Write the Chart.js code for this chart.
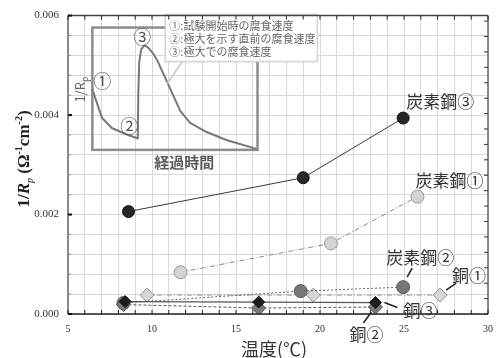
<!DOCTYPE html>
<html><head><meta charset="utf-8">
<script src="https://cdn.jsdelivr.net/npm/chart.js@4.4.0/dist/chart.umd.min.js"></script>
<style>html,body{margin:0;padding:0;background:#fff}#wrap{width:502px;height:358px;position:relative}</style>
</head><body><div id="wrap"><canvas id="c"></canvas></div>
<script>
// ---- data ----
const seriesNames = ['炭素鋼③', '炭素鋼①', '炭素鋼②', '銅①', '銅②', '銅③'];
const tanso3X = [8.6, 19.0, 24.95];
const tanso3Y = [0.00206, 0.00274, 0.00394];
const tanso1X = [11.7, 20.65, 25.8];
const tanso1Y = [0.00084, 0.00142, 0.00236];
const tanso2X = [8.3, 18.85, 24.95];
const tanso2Y = [0.00022, 0.00046, 0.00054];
const dou1X = [9.7, 19.6, 27.15];
const dou1Y = [0.00038, 0.00038, 0.00038];
const dou2X = [8.3, 16.35, 23.3];
const dou2Y = [0.00019, 0.00012, 0.00014];
const dou3X = [8.4, 16.35, 23.3];
const dou3Y = [0.00025, 0.00024, 0.00023];
const xTickLabels = [5, 10, 15, 20, 25, 30];
const yTickLabels = [0, 0.002, 0.004, 0.006];
// inset schematic (normalized elapsed time / normalized 1/Rp)
const insetT = [0, .024, .059, .118, .201, .275, .278, .284, .296, .314, .337, .367, .396, .426, .456, .497, .533, .592, .692, .811, .994];
const insetV = [.496, .398, .260, .179, .130, .093, .439, .724, .821, .854, .837, .789, .724, .634, .545, .423, .317, .220, .146, .081, .008];
const insetNotes = ['①:試験開始時の腐食速度', '②:極大を示す直前の腐食速度', '③:極大での腐食速度'];
const insetXLabel = '経過時間';
const xTitle = '温度(℃)';

// ---- style / layout (not data) ----
const insetBox = {x0: 6.45, x1: 16.28, yTop: 0.00576, yBot: 0.0033};
const rightTickStep = 0.00031;
const JP = '"Noto Sans CJK JP", "Noto Sans", sans-serif';
const SERIF = '"Liberation Serif", "DejaVu Serif", serif';

function mk(i, xs, ys, st) {
  return Object.assign({
    label: seriesNames[i],
    data: xs.map((x, k) => ({x: x, y: ys[k]})),
    showLine: true, tension: 0, borderWidth: 1, pointBorderWidth: 1, pointHoverRadius: 0
  }, st);
}
const datasets = [
  mk(0, tanso3X, tanso3Y, {pointStyle: 'circle', pointRadius: 6, pointBackgroundColor: '#262626', pointBorderColor: '#111', borderColor: '#3a3a3a', order: 1}),
  mk(1, tanso1X, tanso1Y, {pointStyle: 'circle', pointRadius: 6.5, pointBackgroundColor: '#d3d3d3', pointBorderColor: '#999', borderColor: '#8a8a8a', borderDash: [5, 2, 1, 2], order: 6}),
  mk(2, tanso2X, tanso2Y, {pointStyle: 'circle', pointRadius: 6.5, pointBackgroundColor: '#777', pointBorderColor: '#5a5a5a', borderColor: '#666', borderDash: [2, 2], order: 4}),
  mk(3, dou1X, dou1Y, {pointStyle: 'rectRot', pointRadius: 7, pointBackgroundColor: '#d6d6d6', pointBorderColor: '#8f8f8f', borderColor: '#999', borderDash: [5, 2, 1, 2], order: 5}),
  mk(4, dou2X, dou2Y, {pointStyle: 'rectRot', pointRadius: 7, pointBackgroundColor: '#7a7a7a', pointBorderColor: '#4a4a4a', borderColor: '#555', borderDash: [3, 2], order: 3}),
  mk(5, dou3X, dou3Y, {pointStyle: 'rectRot', pointRadius: 6, pointBackgroundColor: '#1e1e1e', pointBorderColor: '#111', borderColor: '#555', borderWidth: 1.3, order: 2})
];

// label placement: [datasetIndex, pointIndex, dx, dy, leader(x1,y1,x2,y2) or null]
const labelPlacement = [
  [0, 2, 37, -17, null],
  [1, 2, 32, -16, null],
  [2, 2, 17, -30, [4, -10, 9, -19]],
  [3, 2, 29, -20, [6, -5, 16, -12]],
  [5, 2, 45, 8, [9, 0, 22, 5]],
  [4, 2, -9, 28, [-4, 5, -12, 16]]
];

function near(v, arr, tol) { return arr.some(a => Math.abs(a - v) < tol); }

const deco = {
  id: 'deco',
  beforeDatasetsDraw(chart) {
    const c = chart.ctx, sx = chart.scales.x, sy = chart.scales.y;
    const L = sx.getPixelForValue(insetBox.x0), R = sx.getPixelForValue(insetBox.x1);
    const T = sy.getPixelForValue(insetBox.yTop), B = sy.getPixelForValue(insetBox.yBot);
    const W = R - L, H = B - T;
    c.save();
    // frame
    c.strokeStyle = '#8c8c8c'; c.lineWidth = 2.5;
    c.strokeRect(L, T, W, H);
    // curve
    c.strokeStyle = '#787878'; c.lineWidth = 2; c.lineJoin = 'round';
    c.beginPath();
    insetT.forEach((t, i) => {
      const x = L + t * W, y = B - insetV[i] * H;
      if (i === 0) c.moveTo(x, y); else c.lineTo(x, y);
    });
    c.stroke();
    // pointer
    c.strokeStyle = '#cfcfcf'; c.lineWidth = 2;
    c.beginPath(); c.moveTo(L + 90, T + 34); c.lineTo(L + 75, T + 56); c.stroke();
    // callout box
    c.shadowColor = 'rgba(0,0,0,0.12)'; c.shadowBlur = 3;
    c.fillStyle = '#fff'; c.fillRect(L + 73, T - 13, 152, 47);
    c.shadowBlur = 0;
    c.strokeStyle = '#d4d4d4'; c.lineWidth = 1.5; c.strokeRect(L + 73, T - 13, 152, 47);
    c.fillStyle = '#666'; c.font = '11px ' + JP; c.textBaseline = 'middle'; c.textAlign = 'left';
    insetNotes.forEach((s, i) => c.fillText(s, L + 77, T - 2 + i * 13));
    // circled numbers
    c.fillStyle = '#555'; c.font = '18px ' + JP; c.textAlign = 'center';
    c.fillText('①', L + 10, T + 54);
    c.fillText('②', L + 37, T + 99);
    c.fillText('③', L + 50, T + 10);
    // x label of inset
    c.font = 'bold 15px ' + JP; c.fillStyle = '#5a5a5a';
    c.fillText(insetXLabel, L + 92, B + 12);
    // y label of inset (rotated)
    c.translate(L - 7, T + 62); c.rotate(-Math.PI / 2);
    c.font = '13px ' + JP; c.fillStyle = '#666'; c.textAlign = 'left'; c.textBaseline = 'alphabetic';
    const w1 = c.measureText('1/R').width;
    c.font = '9px ' + JP; const w2 = c.measureText('p').width;
    const st = -(w1 + w2) / 2;
    c.font = '13px ' + JP; c.fillText('1/R', st, 0);
    c.font = '9px ' + JP; c.fillText('p', st + w1, 3);
    c.restore();
  },
  afterDatasetsDraw(chart) {
    const c = chart.ctx, sx = chart.scales.x, sy = chart.scales.y, a = chart.chartArea;
    c.save();
    // borders
    const line = (x1, y1, x2, y2, col, w) => { c.strokeStyle = col; c.lineWidth = w; c.beginPath(); c.moveTo(x1, y1); c.lineTo(x2, y2); c.stroke(); };
    line(a.left, a.top, a.right, a.top, '#444', 1.5);
    line(a.right, a.top, a.right, a.bottom, '#666', 1.5);
    line(a.left, a.bottom, a.right, a.bottom, '#222', 1.5);
    line(a.left, a.top, a.left, a.bottom, '#8a8a8a', 2);
    // x ticks (bottom & top, inward)
    for (let v = 5; v <= 30; v++) {
      const x = sx.getPixelForValue(v);
      line(x, a.bottom, x, a.bottom - 4, '#222', 1);
      line(x, a.top, x, a.top + 4, '#222', 1);
    }
    // left ticks
    for (let k = 0; k <= 15; k++) {
      const v = k * 0.0004, y = sy.getPixelForValue(v);
      if (near(v, yTickLabels, 1e-7)) line(a.left, y, a.left + 4, y, '#111', 2);
      else line(a.left, y, a.left + 3, y, '#888', 1);
    }
    // right ticks
    for (let v = 0; v <= 0.006 + 1e-9; v += rightTickStep) {
      const y = sy.getPixelForValue(v);
      line(a.right, y, a.right - 4, y, '#333', 1);
    }
    // series labels
    c.font = '17px ' + JP; c.fillStyle = '#333'; c.textAlign = 'center'; c.textBaseline = 'middle';
    labelPlacement.forEach(([di, pi, dx, dy, ld]) => {
      const el = chart.getDatasetMeta(di).data[pi];
      c.fillText(seriesNames[di], el.x + dx, el.y + dy);
      if (ld) line(el.x + ld[0], el.y + ld[1], el.x + ld[2], el.y + ld[3], '#222', 1.5);
    });
    // x title
    c.font = '18px ' + JP; c.fillStyle = '#333';
    c.fillText(xTitle, (a.left + a.right) / 2 - 4, 349);
    // y title (rotated, with sub/superscripts)
    const parts = [
      ['1/', 'bold 17px ' + SERIF, 0],
      ['R', 'italic bold 17px ' + SERIF, 0],
      ['p', 'italic 10px ' + SERIF, 4],
      [' (Ω', 'bold 17px ' + SERIF, 0],
      ['-1', 'bold 10px ' + SERIF, -7],
      ['cm', 'bold 17px ' + SERIF, 0],
      ['-2', 'bold 10px ' + SERIF, -7],
      [')', 'bold 17px ' + SERIF, 0]
    ];
    let tw = 0;
    parts.forEach(p => { c.font = p[1]; p.push(c.measureText(p[0]).width); tw += p[3]; });
    c.translate(29, 159); c.rotate(-Math.PI / 2);
    c.textAlign = 'left'; c.textBaseline = 'alphabetic'; c.fillStyle = '#222';
    let xx = -tw / 2;
    parts.forEach(p => { c.font = p[1]; c.fillText(p[0], xx, p[2]); xx += p[3]; });
    c.restore();
  }
};

new Chart(document.getElementById('c'), {
  type: 'scatter',
  data: {datasets: datasets},
  options: {
    responsive: true, maintainAspectRatio: false, animation: false,
    layout: {padding: {left: 0, right: 4, top: 14, bottom: 0}},
    plugins: {legend: {display: false}, tooltip: {enabled: false}},
    scales: {
      x: {
        type: 'linear', min: 5, max: 30,
        afterFit: s => { s.height = 44; },
        border: {display: false},
        grid: {color: '#d9d9d9', lineWidth: 1, drawTicks: false},
        ticks: {
          stepSize: 1, padding: 9, color: '#333', font: {family: SERIF, size: 10},
          maxRotation: 0, autoSkip: false,
          callback: v => near(v, xTickLabels, 1e-6) ? String(Math.round(v)) : ''
        }
      },
      y: {
        type: 'linear', min: 0, max: 0.006,
        afterFit: s => { s.width = 68; },
        border: {display: false},
        grid: {color: '#d9d9d9', lineWidth: 1, drawTicks: false},
        ticks: {
          stepSize: 0.0004, padding: 9, color: '#333', font: {family: SERIF, size: 11},
          autoSkip: false,
          callback: v => near(v, yTickLabels, 1e-7) ? v.toFixed(3) : ''
        }
      }
    }
  },
  plugins: [deco]
});
</script></body></html>
